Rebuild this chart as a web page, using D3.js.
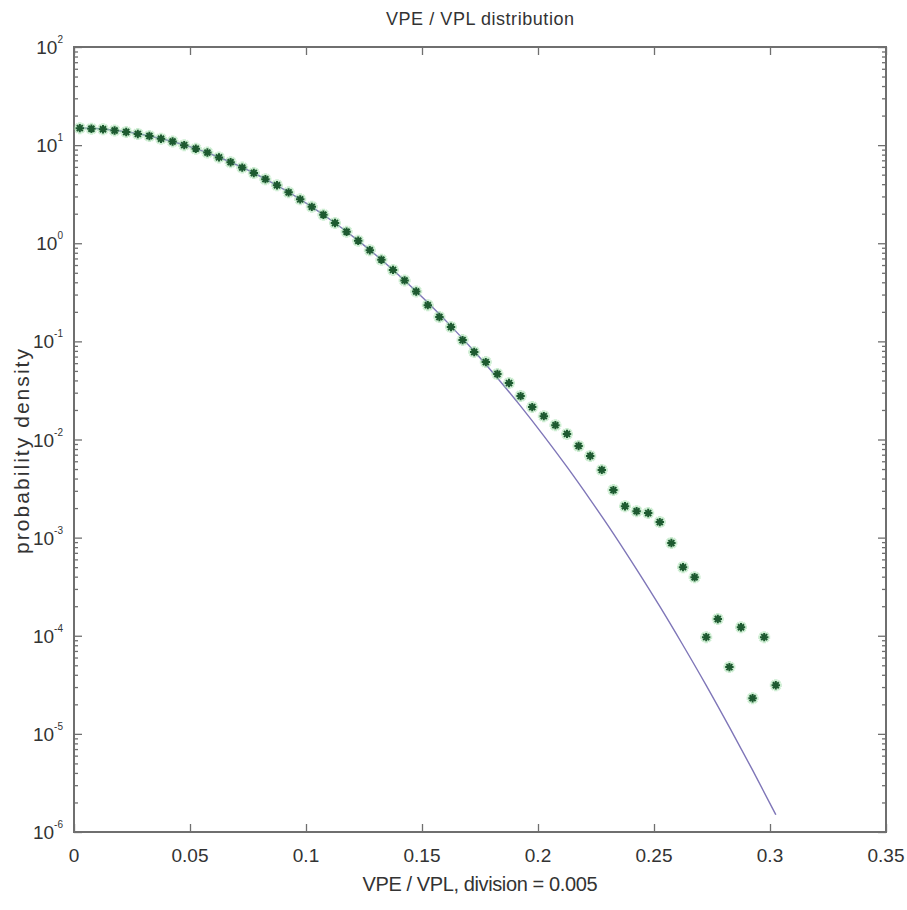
<!DOCTYPE html>
<html>
<head>
<meta charset="utf-8">
<script src="https://cdn.jsdelivr.net/npm/d3@7"></script>
<style>
    body { margin: 0; background: #fff; }
    text { font-family: 'Liberation Sans', Arial, sans-serif; fill: #333; }
</style>
</head>
<body>
<div id="chart"></div>
<script>
// histogram bin centres (division = 0.005)
const binCenters = [
    0.0025, 0.0075, 0.0125, 0.0175, 0.0225, 0.0275, 0.0325, 0.0375, 0.0425, 0.0475,
    0.0525, 0.0575, 0.0625, 0.0675, 0.0725, 0.0775, 0.0825, 0.0875, 0.0925, 0.0975,
    0.1025, 0.1075, 0.1125, 0.1175, 0.1225, 0.1275, 0.1325, 0.1375, 0.1425, 0.1475,
    0.1525, 0.1575, 0.1625, 0.1675, 0.1725, 0.1775, 0.1825, 0.1875, 0.1925, 0.1975,
    0.2025, 0.2075, 0.2125, 0.2175, 0.2225, 0.2275, 0.2325, 0.2375, 0.2425, 0.2475,
    0.2525, 0.2575, 0.2625, 0.2675, 0.2725, 0.2775, 0.2825, 0.2875, 0.2925, 0.2975,
    0.3025
]

// measured probability density per bin (green stars)
const measuredDensity = [
    14.9, 14.7, 14.5, 14.1, 13.6, 13.0, 12.4, 11.6, 10.9, 10.0,
    9.2, 8.4, 7.5, 6.7, 5.9, 5.2, 4.5, 3.9, 3.3, 2.8,
    2.35, 1.95, 1.61, 1.31, 1.06, 0.85, 0.68, 0.535, 0.418, 0.322,
    0.234, 0.177, 0.140, 0.103, 0.078, 0.0615, 0.0465, 0.0376, 0.0277, 0.0214,
    0.0173, 0.0140, 0.0114, 0.0086, 0.0068, 0.0049, 0.00305, 0.00209, 0.00186, 0.00178,
    0.00144, 0.00088, 0.0005, 0.000395, 0.0000968, 0.000148, 0.0000479, 0.000122, 0.0000231, 0.0000968,
    0.0000313
]

// fitted curve (purple line)
const fitX = [
    0.0025, 0.0125, 0.0225, 0.0325, 0.0425, 0.0525, 0.0625, 0.0725, 0.0825, 0.0925,
    0.1025, 0.1125, 0.1225, 0.1325, 0.1425, 0.1525, 0.1625, 0.1725, 0.1825, 0.1925,
    0.2025, 0.2125, 0.2225, 0.2325, 0.2425, 0.2525, 0.2625, 0.2725, 0.2825, 0.2925,
    0.3025
]
const fitDensity = [
    15.0, 14.6, 13.7, 12.4, 10.9, 9.2, 7.52, 5.93, 4.51, 3.32,
    2.35, 1.61, 1.064, 0.679, 0.418, 0.249, 0.143, 0.0792, 0.0424, 0.0219,
    0.0109, 0.00525, 0.00244, 0.00110, 0.000475, 0.000199, 0.000080, 0.0000312, 0.0000117, 0.00000427,
    0.0000015
]

const xTicks = [0, 0.05, 0.1, 0.15, 0.2, 0.25, 0.3, 0.35]
const xTickLabels = ['0', '0.05', '0.1', '0.15', '0.2', '0.25', '0.3', '0.35']
const yExponents = [-6, -5, -4, -3, -2, -1, 0, 1, 2]

class LogDensityPlot {
    constructor(_config) {
        this.config = {
            parentElement: _config.parentElement,
            containerWidth: _config.containerWidth || 907,
            containerHeight: _config.containerHeight || 910,
            margin: _config.margin || { top: 47, right: 21, bottom: 78, left: 74 }
        }
        this.initVis()
    }

    initVis() {
        let vis = this

        vis.width = vis.config.containerWidth - vis.config.margin.left - vis.config.margin.right
        vis.height = vis.config.containerHeight - vis.config.margin.top - vis.config.margin.bottom

        vis.svg = d3.select(vis.config.parentElement).append('svg')
            .attr('width', vis.config.containerWidth)
            .attr('height', vis.config.containerHeight)

        vis.xScale = d3.scaleLinear()
            .domain([0, 0.35])
            .range([0, vis.width])

        vis.yScale = d3.scaleLog()
            .domain([1e-6, 1e2])
            .range([vis.height, 0])

        vis.chart = vis.svg.append('g')
            .attr('transform', `translate(${vis.config.margin.left},${vis.config.margin.top})`)

        // title + axis titles
        vis.svg.append('text')
            .attr('x', vis.config.margin.left + vis.width / 2)
            .attr('y', 25)
            .attr('text-anchor', 'middle')
            .attr('textLength', 188)
            .style('font-size', '18px')
            .text('VPE / VPL distribution')

        vis.svg.append('text')
            .attr('x', vis.config.margin.left + vis.width / 2)
            .attr('y', 891)
            .attr('text-anchor', 'middle')
            .attr('textLength', 235)
            .style('font-size', '20px')
            .text('VPE / VPL, division = 0.005')

        vis.svg.append('text')
            .attr('transform', `translate(29,${vis.config.margin.top + vis.height / 2 + 12}) rotate(-90)`)
            .attr('text-anchor', 'middle')
            .attr('textLength', 205)
            .style('font-size', '21px')
            .text('probability density')
    }

    renderVis() {
        let vis = this
        const axisColor = '#6f6f6f'

        // x ticks, bottom and top, pointing inward
        const xAxisBottom = d3.axisBottom(vis.xScale)
            .tickValues(xTicks)
            .tickSize(-8)
            .tickFormat('')
        const xAxisTop = d3.axisTop(vis.xScale)
            .tickValues(xTicks)
            .tickSize(-8)
            .tickFormat('')

        // decade ticks + minor log ticks, left and right
        const minorTicks = []
        yExponents.slice(0, -1).forEach(e => {
            for (let m = 2; m <= 9; m++) minorTicks.push(m * Math.pow(10, e))
        })
        const decades = yExponents.map(e => Math.pow(10, e))

        const addY = (axisFn, tx) => {
            vis.chart.append('g')
                .attr('transform', `translate(${tx},0)`)
                .call(axisFn(vis.yScale).tickValues(decades).tickSize(-8).tickFormat(''))
                .call(g => g.select('.domain').remove())
            vis.chart.append('g')
                .attr('transform', `translate(${tx},0)`)
                .call(axisFn(vis.yScale).tickValues(minorTicks).tickSize(-4).tickFormat(''))
                .call(g => g.select('.domain').remove())
        }
        addY(d3.axisLeft, 0)
        addY(d3.axisRight, vis.width)

        vis.chart.append('g')
            .attr('transform', `translate(0,${vis.height})`)
            .call(xAxisBottom)
            .call(g => g.select('.domain').remove())
        vis.chart.append('g')
            .call(xAxisTop)
            .call(g => g.select('.domain').remove())

        vis.chart.selectAll('.tick line')
            .attr('stroke', axisColor)
            .attr('stroke-width', 1.3)

        // plot box
        vis.chart.append('rect')
            .attr('width', vis.width)
            .attr('height', vis.height)
            .attr('fill', 'none')
            .attr('stroke', axisColor)
            .attr('stroke-width', 2)

        // x tick labels
        vis.chart.selectAll('.x-label')
            .data(xTicks)
            .join('text')
            .attr('class', 'x-label')
            .attr('x', d => vis.xScale(d))
            .attr('y', vis.height + 30)
            .attr('text-anchor', 'middle')
            .style('font-size', '19px')
            .text((d, i) => xTickLabels[i])

        // y tick labels with superscript exponents
        const yLabels = vis.chart.selectAll('.y-label')
            .data(yExponents)
            .join('text')
            .attr('class', 'y-label')
            .attr('x', -11)
            .attr('y', d => vis.yScale(Math.pow(10, d)) + 7)
            .attr('text-anchor', 'end')
            .style('font-size', '19px')
        yLabels.append('tspan').text('10')
        yLabels.append('tspan')
            .attr('dy', -11)
            .style('font-size', '10px')
            .text(d => d)

        // fitted curve
        const line = d3.line()
            .x((d, i) => vis.xScale(fitX[i]))
            .y(d => vis.yScale(d))
            .curve(d3.curveMonotoneX)

        vis.chart.append('path')
            .datum(fitDensity)
            .attr('fill', 'none')
            .attr('stroke', '#7f76b8')
            .attr('stroke-width', 1.4)
            .attr('d', line)

        // asterisk markers
        const star = (r) => {
            const d = r * Math.SQRT1_2
            return `M${-r},0L${r},0M0,${-r}L0,${r}M${-d},${-d}L${d},${d}M${-d},${d}L${d},${-d}`
        }

        const markers = vis.chart.selectAll('.marker')
            .data(measuredDensity)
            .join('g')
            .attr('class', 'marker')
            .attr('transform', (d, i) => `translate(${vis.xScale(binCenters[i])},${vis.yScale(d)})`)

        markers.append('path')
            .attr('d', star(6))
            .attr('stroke', '#8fd69a')
            .attr('stroke-width', 3.5)
            .attr('stroke-opacity', 0.45)
            .attr('fill', 'none')
        markers.append('path')
            .attr('d', star(4.2))
            .attr('stroke', '#1d5a30')
            .attr('stroke-width', 2)
            .attr('fill', 'none')
    }
}

const plot = new LogDensityPlot({ parentElement: '#chart' })
plot.renderVis()
</script>
</body>
</html>
